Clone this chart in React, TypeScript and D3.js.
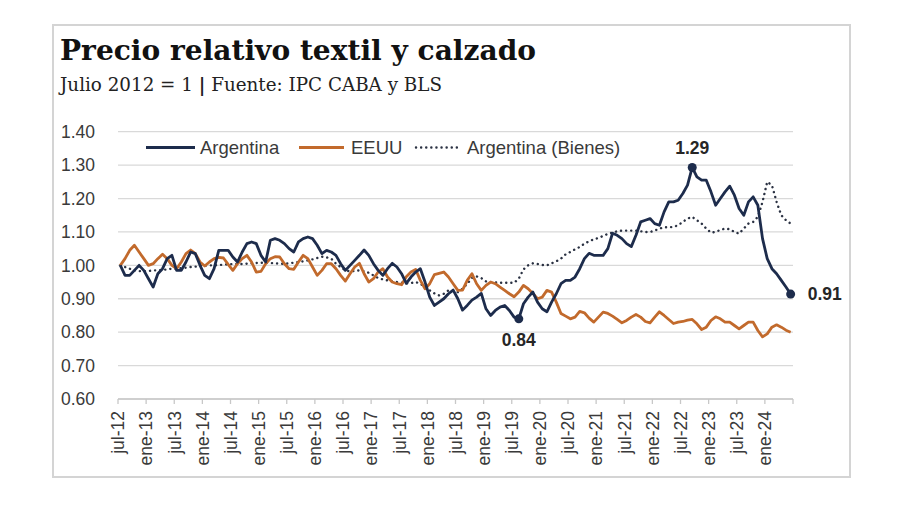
import React from "react";
import * as d3 from "d3";

const argentina = [
  1.00, 0.97, 0.97, 0.985, 1.00, 0.985, 0.96, 0.935, 0.975, 0.99, 1.02, 1.03,
  0.985, 0.985, 1.01, 1.04, 1.035, 1.00, 0.97, 0.96, 0.99, 1.045, 1.045, 1.045,
  1.025, 1.01, 1.04, 1.065, 1.07, 1.065, 1.03, 1.01, 1.075, 1.08, 1.075, 1.065,
  1.05, 1.04, 1.07, 1.08, 1.085, 1.08, 1.06, 1.035, 1.045, 1.04, 1.03, 1.005,
  0.985, 1.00, 1.015, 1.03, 1.046, 1.03, 1.005, 0.985, 0.97, 0.99, 1.006, 0.995,
  0.975, 0.946, 0.965, 0.98, 0.99, 0.95, 0.905, 0.88, 0.89, 0.90, 0.915, 0.926,
  0.90, 0.866, 0.88, 0.896, 0.905, 0.916, 0.87, 0.85, 0.865, 0.875, 0.88, 0.865,
  0.845, 0.84, 0.885, 0.905, 0.92, 0.89, 0.87, 0.861, 0.89, 0.915, 0.945, 0.955,
  0.955, 0.965, 0.99, 1.02, 1.036, 1.03, 1.03, 1.03, 1.05, 1.096, 1.09, 1.08,
  1.065, 1.056, 1.09, 1.13, 1.135, 1.14, 1.125, 1.12, 1.16, 1.19, 1.19, 1.195,
  1.215, 1.24, 1.293, 1.265, 1.255, 1.255, 1.22, 1.18, 1.20, 1.22, 1.237, 1.21,
  1.17, 1.15, 1.19, 1.205, 1.18, 1.08, 1.02, 0.99, 0.975, 0.955, 0.935, 0.914,
];

const eeuu = [
  1.00, 1.02, 1.045, 1.06, 1.04, 1.02, 1.00, 1.005, 1.02, 1.033, 1.02, 1.00,
  0.99, 1.01, 1.035, 1.046, 1.035, 1.01, 0.998, 1.01, 1.02, 1.024, 1.022, 1.003,
  0.985, 1.005, 1.02, 1.03, 1.01, 0.98, 0.982, 1.005, 1.02, 1.026, 1.025, 1.005,
  0.99, 0.988, 1.01, 1.03, 1.02, 0.995, 0.97, 0.985, 1.005, 1.005, 0.99, 0.97,
  0.953, 0.975, 0.995, 1.006, 0.975, 0.95, 0.96, 0.98, 0.99, 0.965, 0.95, 0.945,
  0.942, 0.966, 0.98, 0.988, 0.955, 0.93, 0.945, 0.972, 0.976, 0.98, 0.965, 0.945,
  0.925, 0.926, 0.955, 0.975, 0.945, 0.925, 0.94, 0.95, 0.945, 0.935, 0.925, 0.915,
  0.906, 0.92, 0.94, 0.93, 0.916, 0.90, 0.905, 0.925, 0.92, 0.89, 0.856, 0.848,
  0.84, 0.845, 0.862, 0.858, 0.842, 0.83, 0.845, 0.86, 0.856, 0.848, 0.838, 0.828,
  0.835, 0.845, 0.853, 0.845, 0.832, 0.828, 0.845, 0.861, 0.85, 0.838, 0.826, 0.83,
  0.832, 0.836, 0.838, 0.825, 0.808, 0.815, 0.835, 0.846, 0.84, 0.83, 0.83, 0.82,
  0.81, 0.82, 0.83, 0.83, 0.805, 0.786, 0.795, 0.815, 0.822, 0.815, 0.806, 0.80,
];

const bienes = [
  1.00, 0.995, 0.99, 0.985, 0.983, 0.982, 0.983, 0.985, 0.985, 0.986, 0.988, 0.99,
  0.99, 0.992, 0.993, 0.995, 0.996, 0.998, 0.999, 1.00, 1.00, 1.001, 1.002, 1.003,
  1.004, 1.004, 1.004, 1.005, 1.006, 1.007, 1.008, 1.008, 1.007, 1.006, 1.005, 1.005,
  1.006, 1.008, 1.01, 1.012, 1.015, 1.018, 1.022, 1.026, 1.024, 1.02, 1.005, 0.995,
  0.985, 0.982, 0.983, 0.985, 0.982, 0.978, 0.97, 0.962, 0.958, 0.955, 0.952, 0.95,
  0.948, 0.946, 0.947, 0.95, 0.945, 0.935, 0.925, 0.916, 0.91, 0.915, 0.925, 0.924,
  0.92, 0.93, 0.945, 0.962, 0.967, 0.962, 0.952, 0.95, 0.949, 0.948, 0.948, 0.948,
  0.948, 0.96, 0.988, 1.00, 1.006, 1.004, 1.001, 1.00, 1.006, 1.012, 1.02, 1.033,
  1.04, 1.048, 1.055, 1.065, 1.072, 1.078, 1.082, 1.088, 1.094, 1.098, 1.102, 1.104,
  1.104, 1.104, 1.104, 1.102, 1.10, 1.10, 1.104, 1.11, 1.114, 1.114, 1.115, 1.12,
  1.13, 1.14, 1.145, 1.135, 1.125, 1.11, 1.098, 1.10, 1.106, 1.11, 1.108, 1.10,
  1.095, 1.11, 1.125, 1.13, 1.145, 1.19, 1.25, 1.24, 1.19, 1.15, 1.135, 1.125,
];

const tickLabels = [
  "jul-12", "ene-13", "jul-13", "ene-14", "jul-14", "ene-15", "jul-15", "ene-16",
  "jul-16", "ene-17", "jul-17", "ene-18", "jul-18", "ene-19", "jul-19", "ene-20",
  "jul-20", "ene-21", "jul-21", "ene-22", "jul-22", "ene-23", "jul-23", "ene-24",
];

const yTicks = [0.6, 0.7, 0.8, 0.9, 1.0, 1.1, 1.2, 1.3, 1.4];

const highlights = [
  { idx: 122, label: "1.29", pos: "top" },
  { idx: 85, label: "0.84", pos: "bottom" },
  { idx: 143, label: "0.91", pos: "right" },
];

const NAVY = "#1d2c4c";
const ORANGE = "#c26a2c";
const DOTS = "#2a3142";
const GRID = "#d9d9d9";
const TEXT = "#3a3a3a";
const SANS = "Liberation Sans, Arial, sans-serif";

export default function App() {
  const W = 900;
  const H = 505;
  const n = argentina.length;
  const x = d3.scaleLinear().domain([-0.5, n - 0.5]).range([118, 793]);
  const y = d3.scaleLinear().domain([0.6, 1.4]).range([399, 131.7]);
  const line = d3
    .line<number>()
    .x((_, i) => x(i))
    .y((d) => y(d));

  const tickIdx = d3.range(0, n + 1, 6).map((i) => i - 0.5);

  return (
    <svg width={W} height={H} style={{ display: "block", position: "absolute", left: 0, top: 0 }}>
      <rect x={0} y={0} width={W} height={H} fill="#ffffff" />
      <rect x={53} y={25} width={797} height={452} fill="#ffffff" stroke="#d4d4d4" strokeWidth={2} />
      <text
        x={60}
        y={59.5}
        fontFamily="DejaVu Serif, serif"
        fontWeight="bold"
        fontSize={27.5}
        fill="#111"
        textLength={476}
        lengthAdjust="spacingAndGlyphs"
      >
        Precio relativo textil y calzado
      </text>
      <text
        x={60}
        y={90.5}
        fontFamily="DejaVu Serif, serif"
        fontSize={18}
        fill="#222"
        textLength={382}
        lengthAdjust="spacingAndGlyphs"
      >
        Julio 2012 = 1 <tspan fontWeight="bold">|</tspan> Fuente: IPC CABA y BLS
      </text>

      {yTicks.map((t) => (
        <g key={t}>
          <line x1={118} x2={793} y1={y(t)} y2={y(t)} stroke={GRID} strokeWidth={1.3} />
          <text
            x={95}
            y={y(t)}
            dy="0.36em"
            textAnchor="end"
            fontFamily={SANS}
            fontSize={17.5}
            fill={TEXT}
          >
            {t.toFixed(2)}
          </text>
        </g>
      ))}

      <line x1={118} x2={793} y1={y(0.6)} y2={y(0.6)} stroke="#c8c8c8" strokeWidth={1.3} />
      {tickIdx.map((t) => (
        <line key={t} x1={x(t)} x2={x(t)} y1={y(0.6)} y2={y(0.6) + 5} stroke="#c8c8c8" strokeWidth={1.3} />
      ))}
      {tickLabels.map((lab, k) => {
        const px = x(k * 6 - 0.5);
        return (
          <text
            key={lab}
            transform={`translate(${px},${411}) rotate(-90)`}
            dy="0.36em"
            textAnchor="end"
            fontFamily={SANS}
            fontSize={17.5}
            fill={TEXT}
          >
            {lab}
          </text>
        );
      })}

      <path d={line(bienes) || ""} fill="none" stroke={DOTS} strokeWidth={2.4} strokeDasharray="0.1 5" strokeLinecap="round" />
      <path d={line(eeuu) || ""} fill="none" stroke={ORANGE} strokeWidth={2.8} strokeLinejoin="round" />
      <path d={line(argentina) || ""} fill="none" stroke={NAVY} strokeWidth={2.8} strokeLinejoin="round" />

      {highlights.map((h) => {
        const cx = x(h.idx);
        const cy = y(argentina[h.idx]);
        let tx = cx;
        let ty = cy;
        let anchor = "middle";
        if (h.pos === "top") ty = cy - 13;
        if (h.pos === "bottom") ty = cy + 27;
        if (h.pos === "right") {
          tx = cx + 17;
          ty = cy + 6;
          anchor = "start";
        }
        return (
          <g key={h.label}>
            <circle cx={cx} cy={cy} r={4.5} fill={NAVY} />
            <text x={tx} y={ty} textAnchor={anchor} fontFamily={SANS} fontWeight="bold" fontSize={17.5} fill="#262626">
              {h.label}
            </text>
          </g>
        );
      })}

      <g fontFamily={SANS} fontSize={18.5} fill={TEXT}>
        <line x1={146} x2={195} y1={147.5} y2={147.5} stroke={NAVY} strokeWidth={2.8} />
        <text x={200} y={147.5} dy="0.36em">Argentina</text>
        <line x1={299} x2={344} y1={147.5} y2={147.5} stroke={ORANGE} strokeWidth={2.8} />
        <text x={351} y={147.5} dy="0.36em">EEUU</text>
        <line x1={416} x2={461} y1={147.5} y2={147.5} stroke={DOTS} strokeWidth={2.4} strokeDasharray="0.1 5" strokeLinecap="round" />
        <text x={467} y={147.5} dy="0.36em">Argentina (Bienes)</text>
      </g>
    </svg>
  );
}
